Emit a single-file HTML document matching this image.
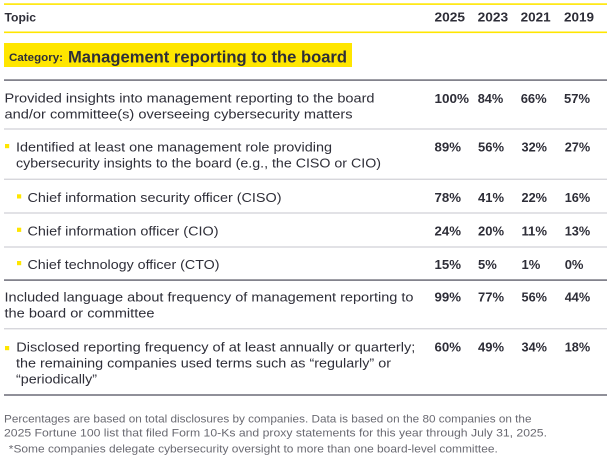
<!DOCTYPE html>
<html>
<head>
<meta charset="utf-8">
<style>
  html, body { margin: 0; padding: 0; background: #ffffff; }
  svg { display: block; }
  text { font-family: "Liberation Sans", Arial, sans-serif; fill: #2e2e38; }
  .b { font-weight: bold; }
  .t { font-size: 13px; }
  .v { font-size: 13px; font-weight: bold; }
  .f { font-size: 11px; fill: #6a6a72; }
</style>
</head>
<body>
<svg width="614" height="466" viewBox="0 0 614 466" xmlns="http://www.w3.org/2000/svg">
  <rect x="0" y="0" width="614" height="466" fill="#ffffff"/>

  <!-- header rules -->
  <rect x="4" y="3.3" width="603" height="1.6" fill="#ffe600"/>
  <rect x="4" y="31.5" width="603" height="1.6" fill="#ffe600"/>

  <!-- header text -->
  <text x="4.5" y="21.5" class="b" font-size="11.5" textLength="31.5" lengthAdjust="spacingAndGlyphs">Topic</text>
  <text x="434.5" y="21.5" class="b" font-size="13" textLength="30.5" lengthAdjust="spacingAndGlyphs">2025</text>
  <text x="477.7" y="21.5" class="b" font-size="13" textLength="30.5" lengthAdjust="spacingAndGlyphs">2023</text>
  <text x="520.7" y="21.5" class="b" font-size="13" textLength="30" lengthAdjust="spacingAndGlyphs">2021</text>
  <text x="564" y="21.5" class="b" font-size="13" textLength="30" lengthAdjust="spacingAndGlyphs">2019</text>

  <!-- category -->
  <rect x="4" y="43" width="348" height="24" fill="#ffe600"/>
  <text x="9" y="61" class="b" font-size="11" textLength="54" lengthAdjust="spacingAndGlyphs">Category:</text>
  <text x="68" y="62.5" class="b" font-size="17" textLength="279" lengthAdjust="spacingAndGlyphs">Management reporting to the board</text>

  <rect x="4" y="79.3" width="603" height="1.6" fill="#747480"/>

  <!-- row 1 -->
  <text x="4.5" y="102.3" class="t" textLength="370" lengthAdjust="spacingAndGlyphs">Provided insights into management reporting to the board</text>
  <text x="4.5" y="118.3" class="t" textLength="348" lengthAdjust="spacingAndGlyphs">and/or committee(s) overseeing cybersecurity matters</text>
  <text x="434.5" y="102.8" class="v" textLength="34.5" lengthAdjust="spacingAndGlyphs">100%</text>
  <text x="477.7" y="102.8" class="v" textLength="25.6" lengthAdjust="spacingAndGlyphs">84%</text>
  <text x="520.7" y="102.8" class="v" textLength="26" lengthAdjust="spacingAndGlyphs">66%</text>
  <text x="564" y="102.8" class="v" textLength="26" lengthAdjust="spacingAndGlyphs">57%</text>

  <rect x="4" y="128.5" width="603" height="1" fill="#c6c6ce"/>

  <!-- row 2 -->
  <rect x="5" y="144" width="4.2" height="4.2" fill="#ffe600"/>
  <text x="16" y="151.7" class="t" textLength="316" lengthAdjust="spacingAndGlyphs">Identified at least one management role providing</text>
  <text x="16" y="167.7" class="t" textLength="365" lengthAdjust="spacingAndGlyphs">cybersecurity insights to the board (e.g., the CISO or CIO)</text>
  <text x="434.5" y="151.7" class="v" textLength="26.5" lengthAdjust="spacingAndGlyphs">89%</text>
  <text x="478" y="151.7" class="v" textLength="26" lengthAdjust="spacingAndGlyphs">56%</text>
  <text x="521.5" y="151.7" class="v" textLength="25.5" lengthAdjust="spacingAndGlyphs">32%</text>
  <text x="564.7" y="151.7" class="v" textLength="25.5" lengthAdjust="spacingAndGlyphs">27%</text>

  <rect x="4" y="178.7" width="603" height="1" fill="#c6c6ce"/>

  <!-- CISO -->
  <rect x="17" y="194.3" width="4.2" height="4.2" fill="#ffe600"/>
  <text x="27.5" y="202" class="t" textLength="254" lengthAdjust="spacingAndGlyphs">Chief information security officer (CISO)</text>
  <text x="434.5" y="202" class="v" textLength="26.5" lengthAdjust="spacingAndGlyphs">78%</text>
  <text x="478" y="202" class="v" textLength="26" lengthAdjust="spacingAndGlyphs">41%</text>
  <text x="521.5" y="202" class="v" textLength="25.5" lengthAdjust="spacingAndGlyphs">22%</text>
  <text x="564.7" y="202" class="v" textLength="25.5" lengthAdjust="spacingAndGlyphs">16%</text>

  <rect x="4" y="212.5" width="603" height="1" fill="#c6c6ce"/>

  <!-- CIO -->
  <rect x="17" y="227.7" width="4.2" height="4.2" fill="#ffe600"/>
  <text x="27.5" y="235.7" class="t" textLength="191" lengthAdjust="spacingAndGlyphs">Chief information officer (CIO)</text>
  <text x="434.5" y="235.7" class="v" textLength="26.5" lengthAdjust="spacingAndGlyphs">24%</text>
  <text x="478" y="235.7" class="v" textLength="26" lengthAdjust="spacingAndGlyphs">20%</text>
  <text x="521.5" y="235.7" class="v" textLength="25.5" lengthAdjust="spacingAndGlyphs">11%</text>
  <text x="564.7" y="235.7" class="v" textLength="25.5" lengthAdjust="spacingAndGlyphs">13%</text>

  <rect x="4" y="246.5" width="603" height="1" fill="#c6c6ce"/>

  <!-- CTO -->
  <rect x="17" y="261" width="4.2" height="4.2" fill="#ffe600"/>
  <text x="27.5" y="269.2" class="t" textLength="192" lengthAdjust="spacingAndGlyphs">Chief technology officer (CTO)</text>
  <text x="434.5" y="269.2" class="v" textLength="26.5" lengthAdjust="spacingAndGlyphs">15%</text>
  <text x="478" y="269.2" class="v">5%</text>
  <text x="521.5" y="269.2" class="v">1%</text>
  <text x="564.7" y="269.2" class="v">0%</text>

  <rect x="4" y="279.3" width="603" height="1.6" fill="#747480"/>

  <!-- Included -->
  <text x="4.5" y="301.7" class="t" textLength="409" lengthAdjust="spacingAndGlyphs">Included language about frequency of management reporting to</text>
  <text x="4.5" y="317.7" class="t" textLength="150" lengthAdjust="spacingAndGlyphs">the board or committee</text>
  <text x="434.5" y="301.7" class="v" textLength="26.5" lengthAdjust="spacingAndGlyphs">99%</text>
  <text x="478" y="301.7" class="v" textLength="26" lengthAdjust="spacingAndGlyphs">77%</text>
  <text x="521.5" y="301.7" class="v" textLength="25.5" lengthAdjust="spacingAndGlyphs">56%</text>
  <text x="564.7" y="301.7" class="v" textLength="25.5" lengthAdjust="spacingAndGlyphs">44%</text>

  <rect x="4" y="328.3" width="603" height="1" fill="#c6c6ce"/>

  <!-- Disclosed -->
  <rect x="5" y="346" width="4.2" height="4.2" fill="#ffe600"/>
  <text x="16.3" y="351.7" class="t" textLength="399" lengthAdjust="spacingAndGlyphs">Disclosed reporting frequency of at least annually or quarterly;</text>
  <text x="16" y="367.5" class="t" textLength="375" lengthAdjust="spacingAndGlyphs">the remaining companies used terms such as “regularly” or</text>
  <text x="16" y="383.3" class="t" textLength="81" lengthAdjust="spacingAndGlyphs">“periodically”</text>
  <text x="434.5" y="351.7" class="v" textLength="26.5" lengthAdjust="spacingAndGlyphs">60%</text>
  <text x="478" y="351.7" class="v" textLength="26" lengthAdjust="spacingAndGlyphs">49%</text>
  <text x="521.5" y="351.7" class="v" textLength="25.5" lengthAdjust="spacingAndGlyphs">34%</text>
  <text x="564.7" y="351.7" class="v" textLength="25.5" lengthAdjust="spacingAndGlyphs">18%</text>

  <rect x="4" y="394.2" width="603" height="1.6" fill="#747480"/>

  <!-- footnotes -->
  <text x="4" y="422.7" class="f" textLength="527.5" lengthAdjust="spacingAndGlyphs">Percentages are based on total disclosures by companies. Data is based on the 80 companies on the</text>
  <text x="4" y="436.7" class="f" textLength="543" lengthAdjust="spacingAndGlyphs">2025 Fortune 100 list that filed Form 10-Ks and proxy statements for this year through July 31, 2025.</text>
  <text x="8.8" y="452.3" class="f" textLength="489" lengthAdjust="spacingAndGlyphs">*Some companies delegate cybersecurity oversight to more than one board-level committee.</text>
</svg>
</body>
</html>
